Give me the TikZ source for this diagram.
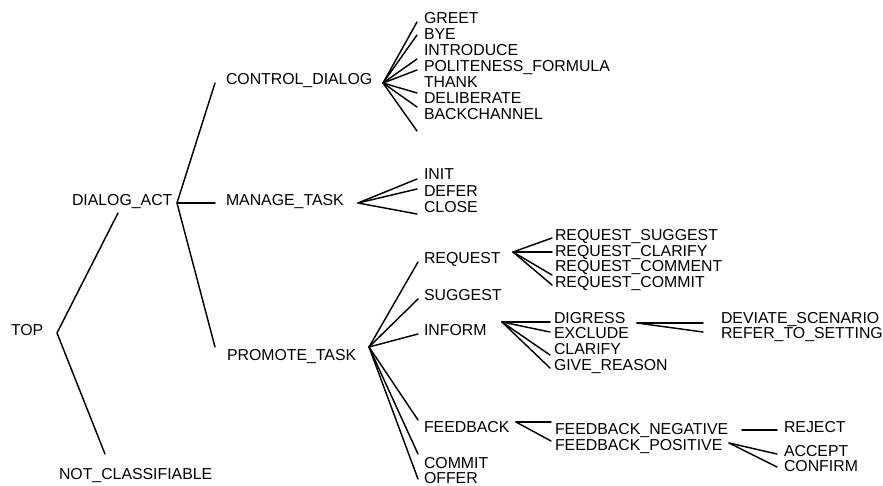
\documentclass[tikz,border=0pt]{standalone}
\usepackage{fontspec}
\setmainfont{Liberation Sans}
\begin{document}
\begin{tikzpicture}[x=1pt,y=-1pt,
  lbl/.style={anchor=base west, inner sep=0pt, outer sep=0pt,
              font=\fontsize{15.85}{16}\selectfont},
  edge/.style={line width=1.45pt, line cap=round, line join=round}]
\useasboundingbox (0,0) rectangle (883,485);

% ---- labels (x, baseline) ----
\node[lbl] (top)   at (11,335.7) {TOP};
\node[lbl] (ncl)   at (59,479.7) {NOT\_CLASSIFIABLE};
\node[lbl] (da)    at (72,205.7) {DIALOG\_ACT};
\node[lbl] (cd)    at (226,84.7) {CONTROL\_DIALOG};
\node[lbl] (mt)    at (226,205.7) {MANAGE\_TASK};
\node[lbl] (pt)    at (227,360.7) {PROMOTE\_TASK};

\node[lbl] (greet) at (424,23.7)  {GREET};
\node[lbl] (bye)   at (424,39.7)  {BYE};
\node[lbl] (intro) at (424,55.7)  {INTRODUCE};
\node[lbl] (polf)  at (424,71.7)  {POLITENESS\_FORMULA};
\node[lbl] (thank) at (424,87.7)  {THANK};
\node[lbl] (delib) at (424,103.7) {DELIBERATE};
\node[lbl] (bch)   at (424,119.7) {BACKCHANNEL};

\node[lbl] (init)  at (424,179.7) {INIT};
\node[lbl] (defer) at (424,196.2) {DEFER};
\node[lbl] (close) at (424,212.2) {CLOSE};

\node[lbl] (req)   at (424,263.7) {REQUEST};
\node[lbl] (sugg)  at (424,300.7) {SUGGEST};
\node[lbl] (inf)   at (424,335.7) {INFORM};
\node[lbl] (fb)    at (424,432.7) {FEEDBACK};
\node[lbl] (comm)  at (424,468.5) {COMMIT};
\node[lbl] (offer) at (424,483.2) {OFFER};

\node[lbl] (rsug)  at (555,240.7) {REQUEST\_SUGGEST};
\node[lbl] (rcla)  at (555,256.2) {REQUEST\_CLARIFY};
\node[lbl] (rcmt)  at (555,271.7) {REQUEST\_COMMENT};
\node[lbl] (rcom)  at (555,287.2) {REQUEST\_COMMIT};

\node[lbl] (dig)   at (554,323.7) {DIGRESS};
\node[lbl] (excl)  at (554,338.7) {EXCLUDE};
\node[lbl] (clar)  at (554,354.7) {CLARIFY};
\node[lbl] (give)  at (554,370.7) {GIVE\_REASON};

\node[lbl] (dev)   at (721,323.7) {DEVIATE\_SCENARIO};
\node[lbl] (ref)   at (721,338.7) {REFER\_TO\_SETTING};

\node[lbl] (fneg)  at (555,434.7) {FEEDBACK\_NEGATIVE};
\node[lbl] (fpos)  at (555,450.7) {FEEDBACK\_POSITIVE};

\node[lbl] (rej)   at (784,432.7) {REJECT};
\node[lbl] (acc)   at (784,456.7) {ACCEPT};
\node[lbl] (conf)  at (784,471.7) {CONFIRM};

% ---- branching points and branch ends ----
\coordinate (vTop) at (57,333);
\coordinate (eDA)  at (118,213);
\coordinate (eNC)  at (105,454);

\coordinate (vDA)  at (177,203);
\coordinate (eCD)  at (215,83);
\coordinate (eMT)  at (215,203);
\coordinate (ePT)  at (215,347);

\coordinate (vCD)  at (383,83);
\coordinate (vMT)  at (358,203);
\coordinate (vPT)  at (369,347);
\coordinate (vRQ)  at (513,252);
\coordinate (vIN)  at (502,322);
\coordinate (vDG)  at (637,323);
\coordinate (vFB)  at (516,422);
\coordinate (vFP)  at (729,443);

% ---- edges ----
\draw[edge] (eDA) -- (vTop) -- (eNC);
\draw[edge] (eCD) -- (vDA) -- (ePT);
\draw[edge] (vDA) -- (eMT);

\foreach \y in {22,35,59,70,93,107,131}
  \draw[edge] (vCD) -- (417,\y);
\foreach \y in {179,189,214}
  \draw[edge] (vMT) -- (417,\y);
\foreach \y in {262,299,334,420,454,479}
  \draw[edge] (vPT) -- (418,\y);
\foreach \y in {238,252,275,285}
  \draw[edge] (vRQ) -- (552,\y);
\foreach \y in {322,332,355,368}
  \draw[edge] (vIN) -- (550,\y);
\foreach \y in {323,332}
  \draw[edge] (vDG) -- (703,\y);
\foreach \y in {422,441}
  \draw[edge] (vFB) -- (551,\y);
\draw[edge] (742,430) -- (777,430);
\foreach \y in {454,467}
  \draw[edge] (vFP) -- (777,\y);
\end{tikzpicture}
\end{document}
